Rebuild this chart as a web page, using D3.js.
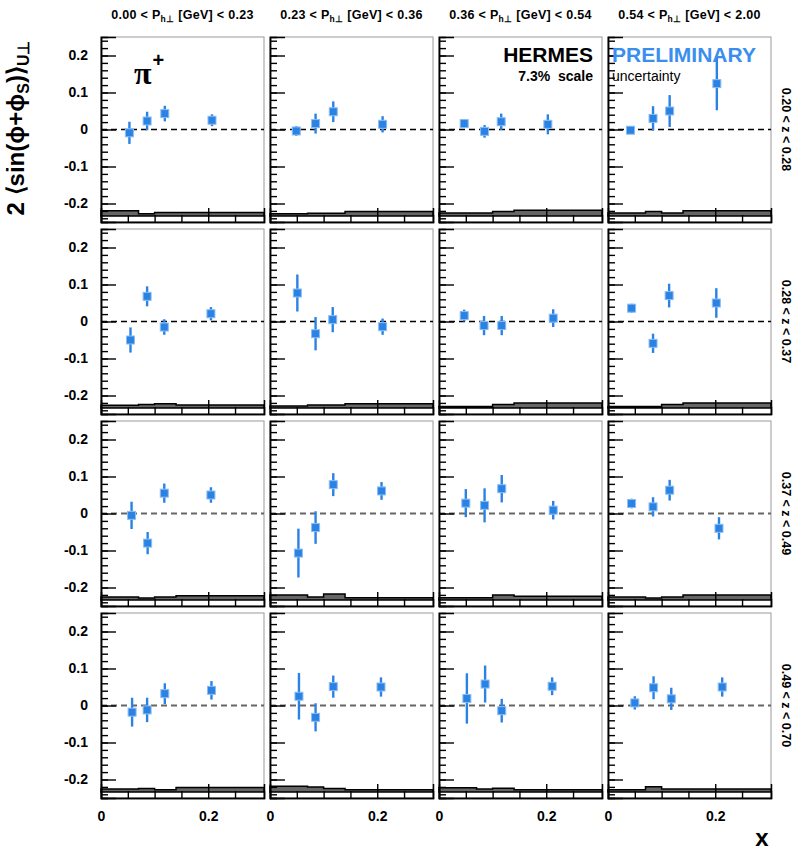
<!DOCTYPE html>
<html>
<head>
<meta charset="utf-8">
<script src="https://cdn.jsdelivr.net/npm/d3@7"></script>
<style>
  body { margin: 0; background: #fff; }
  svg { display: block; }
  text { font-family: "Liberation Sans", Arial, sans-serif; font-weight: bold; }
</style>
</head>
<body>
<script>
(function(){

    //bin labels
    var ptEdges = ["0.00", "0.23", "0.36", "0.54", "2.00"];
    var zEdges = ["0.20", "0.28", "0.37", "0.49", "0.70"];

    //mean x of the four x bins, [z row][Pt column]
    var xMean = [
        [[0.053, 0.086, 0.119, 0.207], [0.049, 0.085, 0.118, 0.210], [0.047, 0.085, 0.116, 0.203], [0.042, 0.084, 0.115, 0.203]],
        [[0.055, 0.086, 0.118, 0.205], [0.051, 0.085, 0.117, 0.210], [0.047, 0.084, 0.117, 0.213], [0.044, 0.084, 0.114, 0.202]],
        [[0.057, 0.087, 0.118, 0.205], [0.053, 0.085, 0.118, 0.208], [0.050, 0.085, 0.117, 0.213], [0.044, 0.084, 0.115, 0.207]],
        [[0.058, 0.086, 0.119, 0.206], [0.054, 0.085, 0.118, 0.207], [0.052, 0.086, 0.117, 0.211], [0.050, 0.085, 0.118, 0.213]]
    ];

    //asymmetry values
    var asym = [
        [[-0.009, 0.023, 0.043, 0.025], [-0.004, 0.016, 0.048, 0.014], [0.016, -0.005, 0.021, 0.014], [-0.002, 0.030, 0.050, 0.124]],
        [[-0.050, 0.068, -0.015, 0.021], [0.077, -0.033, 0.005, -0.014], [0.016, -0.011, -0.011, 0.009], [0.036, -0.059, 0.070, 0.050]],
        [[-0.005, -0.080, 0.055, 0.050], [-0.107, -0.038, 0.078, 0.061], [0.028, 0.022, 0.067, 0.009], [0.027, 0.018, 0.063, -0.040]],
        [[-0.018, -0.012, 0.032, 0.041], [0.025, -0.032, 0.051, 0.050], [0.019, 0.058, -0.014, 0.052], [0.007, 0.048, 0.018, 0.050]]
    ];

    //statistical errors
    var statErr = [
        [[0.030, 0.025, 0.021, 0.016], [0.013, 0.027, 0.028, 0.022], [0.011, 0.017, 0.022, 0.027], [0.010, 0.033, 0.043, 0.072]],
        [[0.034, 0.027, 0.021, 0.018], [0.050, 0.045, 0.034, 0.022], [0.016, 0.026, 0.026, 0.024], [0.012, 0.026, 0.032, 0.040]],
        [[0.037, 0.030, 0.026, 0.021], [0.066, 0.044, 0.031, 0.024], [0.038, 0.046, 0.037, 0.025], [0.013, 0.026, 0.028, 0.030]],
        [[0.039, 0.033, 0.028, 0.025], [0.063, 0.038, 0.030, 0.026], [0.068, 0.050, 0.032, 0.024], [0.018, 0.031, 0.030, 0.026]]
    ];

    //systematic band: bin edges in x and band heights per bin
    var sysEdges = [0, 0.07, 0.1, 0.14, 0.304];
    var sysBase = -0.2335;
    var sysBand = [
        [[0.014, 0.006, 0.009, 0.009], [0.006, 0.007, 0.007, 0.012], [0.008, 0.008, 0.012, 0.015], [0.008, 0.012, 0.008, 0.014]],
        [[0.007, 0.009, 0.011, 0.008], [0.005, 0.008, 0.008, 0.011], [0.004, 0.004, 0.009, 0.013], [0.004, 0.004, 0.009, 0.013]],
        [[0.008, 0.005, 0.008, 0.011], [0.013, 0.008, 0.016, 0.006], [0.006, 0.006, 0.013, 0.010], [0.008, 0.005, 0.008, 0.013]],
        [[0.008, 0.009, 0.006, 0.012], [0.015, 0.013, 0.009, 0.006], [0.011, 0.008, 0.010, 0.006], [0.006, 0.014, 0.008, 0.008]]
    ];

    var yMajor = [-0.2, -0.1, 0, 0.1, 0.2];
    var yMinor = d3.range(-12, 13).map(function(i){ return Math.round(i * 2) / 100; });
    var xMinor = [0.05, 0.1, 0.15, 0.25];
    var xMajor = [0.2];
    var xLabels = [0, 0.2];

    //frame layout
    var width = 801, height = 852,
        panelW = 163, panelH = 185,
        left0 = 101, colStep = 169,
        top0 = 37, rowStep = 192;

    var blue = "#2a82e4";

    var svg = d3.select("body")
        .append("svg")
        .attr("width", width)
        .attr("height", height);

    var x = d3.scaleLinear().domain([0, 0.304]).range([0, panelW]);
    var y = d3.scaleLinear().domain([-0.25, 0.25]).range([panelH, 0]);

    //Pt headers
    for (var c = 0; c < 4; c++){
        var h = svg.append("text")
            .attr("x", left0 + c * colStep + panelW / 2)
            .attr("y", 19)
            .attr("text-anchor", "middle")
            .style("font-size", "12.5px")
            .style("letter-spacing", "0.3px");
        h.append("tspan").text(ptEdges[c] + " < P");
        h.append("tspan").attr("dy", 3).style("font-size", "8.5px").text("h\u22A5");
        h.append("tspan").attr("dy", -3).text(" [GeV] < " + ptEdges[c + 1]);
    }

    //z labels on the right
    for (var r = 0; r < 4; r++){
        var cy = top0 + r * rowStep + panelH / 2;
        svg.append("text")
            .attr("transform", "translate(782," + cy + ") rotate(90)")
            .attr("text-anchor", "middle")
            .style("font-size", "12.5px")
            .text(zEdges[r] + " < z < " + zEdges[r + 1]);
    }

    //panels
    for (var r = 0; r < 4; r++){
        for (var c = 0; c < 4; c++){
            drawPanel(r, c);
        }
    }

    function drawPanel(r, c){
        var g = svg.append("g")
            .attr("transform", "translate(" + (left0 + c * colStep) + "," + (top0 + r * rowStep) + ")");

        //frame
        g.append("rect")
            .attr("width", panelW)
            .attr("height", panelH)
            .attr("fill", "#fff")
            .attr("stroke", "#aaa")
            .attr("stroke-width", 1.2);

        //systematic band as step histogram
        var area = [];
        for (var i = 0; i < 4; i++){
            area.push([sysEdges[i], sysBand[r][c][i]]);
            area.push([sysEdges[i + 1], sysBand[r][c][i]]);
        }
        g.append("path")
            .datum(area)
            .attr("fill", "#666")
            .attr("stroke", "#000")
            .attr("stroke-width", 1.5)
            .attr("d", d3.area()
                .x(function(d){ return x(d[0]); })
                .y0(y(sysBase))
                .y1(function(d){ return y(sysBase + d[1]); }));

        //zero line
        g.append("line")
            .attr("x1", x(0))
            .attr("x2", x(0.304))
            .attr("y1", y(0))
            .attr("y2", y(0))
            .attr("stroke", r < 2 ? "#000" : "#666")
            .attr("stroke-width", r < 2 ? 1.3 : 1.8)
            .attr("stroke-dasharray", "6,4");

        //y axis ticks
        g.append("g")
            .attr("class", "axis")
            .call(d3.axisRight(y).tickValues(yMinor).tickSize(7).tickFormat(""));
        g.append("g")
            .attr("class", "axis")
            .call(d3.axisRight(y).tickValues(yMajor).tickSize(15).tickFormat(""));

        //x axis ticks
        g.append("g")
            .attr("class", "axis")
            .attr("transform", "translate(0," + panelH + ")")
            .call(d3.axisTop(x).tickValues(xMinor).tickSize(7).tickFormat(""));
        g.append("g")
            .attr("class", "axis")
            .attr("transform", "translate(0," + panelH + ")")
            .call(d3.axisTop(x).tickValues(xMajor).tickSize(14).tickFormat(""));

        g.selectAll(".axis path").attr("stroke", "#000").attr("stroke-width", 1.5);
        g.selectAll(".axis line").attr("stroke", "#000").attr("stroke-width", 1.4);

        //labels on outer panels
        if (c == 0){
            var ya = g.append("g")
                .call(d3.axisLeft(y).tickValues(yMajor).tickSize(0).tickPadding(13)
                    .tickFormat(function(d){ return d == 0 ? "0" : String(d); }));
            ya.select(".domain").remove();
            ya.selectAll("text").style("font-size", "14px").style("font-family", "Liberation Sans, Arial, sans-serif").style("font-weight", "bold").attr("fill", "#000");
        }
        if (r == 3){
            var xa = g.append("g")
                .attr("transform", "translate(0," + panelH + ")")
                .call(d3.axisBottom(x).tickValues(xLabels).tickSize(0).tickPadding(13)
                    .tickFormat(function(d){ return d == 0 ? "0" : String(d); }));
            xa.select(".domain").remove();
            xa.selectAll("text").style("font-size", "14px").style("font-family", "Liberation Sans, Arial, sans-serif").style("font-weight", "bold").attr("fill", "#000");
        }

        //data points with stat errors
        var pts = xMean[r][c].map(function(xv, i){
            return {x: xv, y: asym[r][c][i], e: statErr[r][c][i]};
        });
        g.selectAll(".err")
            .data(pts)
            .enter()
            .append("line")
            .attr("class", "err")
            .attr("x1", function(d){ return x(d.x); })
            .attr("x2", function(d){ return x(d.x); })
            .attr("y1", function(d){ return y(d.y - d.e); })
            .attr("y2", function(d){ return y(d.y + d.e); })
            .attr("stroke", blue)
            .attr("stroke-width", 2.4);
        g.selectAll(".pt")
            .data(pts)
            .enter()
            .append("rect")
            .attr("class", "pt")
            .attr("x", function(d){ return x(d.x) - 4; })
            .attr("y", function(d){ return y(d.y) - 4; })
            .attr("width", 8)
            .attr("height", 8)
            .attr("fill", blue)
            .attr("stroke", "#8cbdf2")
            .attr("stroke-width", 1);
    }

    //pi+ label
    var pi = svg.append("text")
        .attr("x", 134)
        .attr("y", 84)
        .style("font-family", "Liberation Serif, Times New Roman, serif")
        .style("font-size", "32px");
    pi.append("tspan").text("\u03C0");
    pi.append("tspan").attr("dy", -17).attr("dx", 1).style("font-family", "Liberation Sans, Arial, sans-serif").style("font-size", "20px").text("+");

    //HERMES PRELIMINARY
    svg.append("text")
        .attr("x", 593).attr("y", 62)
        .attr("text-anchor", "end")
        .style("font-size", "21px")
        .text("HERMES");
    svg.append("text")
        .attr("x", 593).attr("y", 81)
        .attr("text-anchor", "end")
        .style("font-size", "14px")
        .text("7.3%\u00A0\u00A0scale");
    svg.append("text")
        .attr("x", 612).attr("y", 62)
        .style("font-size", "21px")
        .attr("fill", "#3a8ef0")
        .text("PRELIMINARY");
    svg.append("text")
        .attr("x", 612).attr("y", 81)
        .style("font-size", "14px")
        .style("font-weight", "normal")
        .text("uncertainty");

    //y axis title
    var yt = svg.append("text")
        .attr("transform", "translate(24,128) rotate(-90)")
        .attr("text-anchor", "middle")
        .style("font-size", "24px");
    yt.append("tspan").text("2 \u27E8sin(\u03D5+\u03D5");
    yt.append("tspan").attr("dy", 5).style("font-size", "16px").text("S");
    yt.append("tspan").attr("dy", -5).text(")\u27E9");
    yt.append("tspan").attr("dy", 5).style("font-size", "16px").text("U\u22A5");

    //x axis title
    svg.append("text")
        .attr("x", 762).attr("y", 846)
        .attr("text-anchor", "middle")
        .style("font-size", "24px")
        .text("x");

})();
</script>
</body>
</html>
